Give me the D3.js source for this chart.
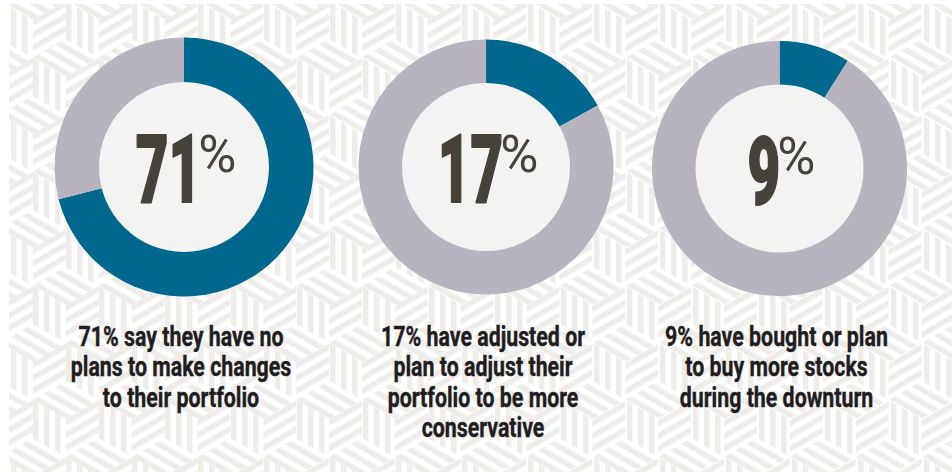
<!DOCTYPE html>
<html>
<head>
<meta charset="utf-8">
<script src="https://cdn.jsdelivr.net/npm/d3@7"></script>
<style>
  html, body { margin: 0; padding: 0; background: #ffffff; }
  svg { display: block; }
</style>
</head>
<body>
<svg id="chart" width="952" height="472"></svg>
<script>
// Survey shares shown as three donuts
const values = [71, 17, 9];
const valueLabels = ["71", "17", "9"];
const captions = [
  ["71% say they have no", "plans to make changes", "to their portfolio"],
  ["17% have adjusted or", "plan to adjust their", "portfolio to be more", "conservative"],
  ["9% have bought or plan", "to buy more stocks", "during the downturn"]
];

const W = 952, H = 472;
const svg = d3.select("#chart");
const defs = svg.append("defs");

// ---- striped isometric-cube backdrop ----
const stripeColor = "#efedea";
const period = 11, stripeW = 5.5;
[["stripeV", 0], ["stripeA", 60], ["stripeB", -60]].forEach(([id, rot]) => {
  const p = defs.append("pattern")
    .attr("id", id)
    .attr("patternUnits", "userSpaceOnUse")
    .attr("width", period).attr("height", period)
    .attr("patternTransform", `rotate(${rot})`);
  p.append("rect").attr("width", stripeW).attr("height", period).attr("fill", stripeColor);
});

defs.append("clipPath").attr("id", "bgClip")
  .append("rect").attr("x", 9).attr("y", 4).attr("width", W - 9).attr("height", H - 4);

const bg = svg.append("g").attr("clip-path", "url(#bgClip)");
const a = 38, hx = a * Math.sqrt(3) / 2;
for (let row = -1; row * 1.5 * a < H + 2 * a; row++) {
  const cy = row * 1.5 * a + 20;
  const off = (row % 2 === 0) ? 0 : hx;
  for (let cx = -hx + off; cx < W + 2 * hx; cx += 2 * hx) {
    const T = [cx, cy - a], UR = [cx + hx, cy - a / 2], LR = [cx + hx, cy + a / 2],
          B = [cx, cy + a], LL = [cx - hx, cy + a / 2], UL = [cx - hx, cy - a / 2], C = [cx, cy];
    const faces = [
      [[T, UR, C, UL], "stripeB"],
      [[UL, C, B, LL], "stripeV"],
      [[C, UR, LR, B], "stripeA"]
    ];
    faces.forEach(([pts, pid]) => {
      bg.append("polygon")
        .attr("points", pts.map(p => p.join(",")).join(" "))
        .attr("fill", `url(#${pid})`);
    });
  }
}

// ---- donuts ----
const centers = [[184, 167], [486, 167], [779.5, 168.5]];
const outerR = [129.5, 127.5, 127.5];
const innerR = [85, 84, 84];
const colors = d3.scaleOrdinal().domain(["share", "rest"]).range(["#00678f", "#b7b4c0"]);

const pie = d3.pie().sort(null).value(d => d.v).startAngle(0).endAngle(2 * Math.PI);

values.forEach((v, i) => {
  const [cx, cy] = centers[i];
  const g = svg.append("g").attr("transform", `translate(${cx},${cy})`);
  const arc = d3.arc().innerRadius(innerR[i] - 1).outerRadius(outerR[i]);
  const parts = pie([{ k: "share", v: v }, { k: "rest", v: 100 - v }]);
  g.selectAll("path.slice").data(parts).join("path")
    .attr("class", "slice")
    .attr("d", arc)
    .attr("fill", d => colors(d.data.k));
  g.append("circle").attr("r", innerR[i]).attr("fill", "#f3f3f1");

  // big number with a raised percent sign
  const numG = g.append("g");
  const sx = 0.6;
  const num = numG.append("text")
    .attr("font-family", "Roboto, 'Liberation Sans', sans-serif")
    .attr("font-weight", 900)
    .attr("font-size", 94)
    .attr("fill", "#46423a")
    .attr("stroke", "#46423a")
    .attr("stroke-width", 2)
    .attr("stroke-linejoin", "round")
    .attr("text-anchor", "start")
    .text(valueLabels[i]);
  const pct = numG.append("text")
    .attr("font-family", "Roboto, 'Liberation Sans', sans-serif")
    .attr("font-weight", 400)
    .attr("font-size", 52)
    .attr("fill", "#46423a")
    .attr("text-anchor", "start")
    .text("%");
  const nw = num.node().getComputedTextLength() * sx;
  const pw = pct.node().getComputedTextLength();
  const gap = -3;
  const total = nw + gap + pw;
  const x0 = -total / 2 + 2;
  num.attr("transform", `translate(${x0},35) scale(${sx},1)`);
  pct.attr("transform", `translate(${x0 + nw + gap},5)`);

  // caption
  const lines = captions[i];
  lines.forEach((line, j) => {
    svg.append("text")
      .attr("font-family", "Roboto, 'Liberation Sans', sans-serif")
      .attr("font-weight", 700)
      .attr("font-size", 27)
      .attr("fill", "#1f1d1e")
      .attr("stroke", "#1f1d1e")
      .attr("stroke-width", 0.4)
      .attr("text-anchor", "middle")
      .attr("transform", `translate(${cx - 3},${346 + j * 30.4}) scale(0.79,1)`)
      .text(line);
  });
});
</script>
</body>
</html>
